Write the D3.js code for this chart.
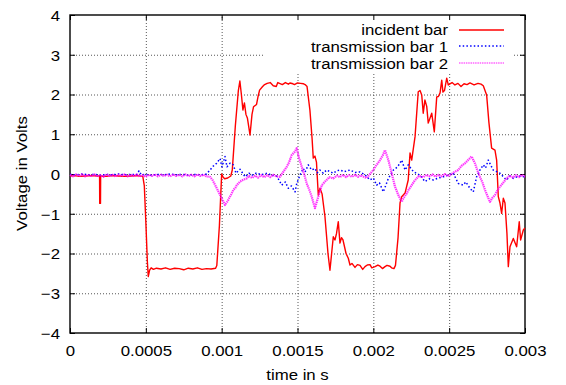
<!DOCTYPE html>
<html><head><meta charset="utf-8">
<script src="https://cdn.jsdelivr.net/npm/d3@7"></script>
<style>
body{margin:0;background:#fff;}
svg{display:block;}
text{font-family:"Liberation Sans",Arial,sans-serif;fill:#000;}
</style></head>
<body><svg id="c" width="566" height="385"></svg>
<script>
// ---------- data ----------
const xTicks = [0, 0.0005, 0.001, 0.0015, 0.002, 0.0025, 0.003];
const yTicks = [-4, -3, -2, -1, 0, 1, 2, 3, 4];
const seriesNames = ["incident bar", "transmission bar 1", "transmission bar 2"];

const incident = [[0,-0.05],[0.00003,-0.04],[0.00006,-0.06],[0.0001,-0.05],[0.00014,-0.04],[0.00018,-0.05],[0.000195,-0.05],[0.000196,-0.74],[0.000201,-0.74],[0.000202,-0.05],[0.00024,-0.06],[0.00028,-0.04],[0.00032,-0.05],[0.00036,-0.06],[0.0004,-0.05],[0.00044,-0.04],[0.00048,-0.06],[0.00049,-0.3],[0.0005,-1.2],[0.00051,-2.2],[0.000516,-2.58],[0.000525,-2.42],[0.000535,-2.36],[0.00055,-2.4],[0.00057,-2.37],[0.0006,-2.39],[0.00063,-2.36],[0.00066,-2.4],[0.00069,-2.37],[0.00072,-2.38],[0.00075,-2.41],[0.00078,-2.37],[0.00081,-2.39],[0.00084,-2.36],[0.00087,-2.4],[0.0009,-2.38],[0.00093,-2.39],[0.00096,-2.37],[0.000968,-2.3],[0.000985,-1.3],[0.001,0.0],[0.00101,-0.08],[0.00102,-0.12],[0.00104,-0.1],[0.00106,-0.05],[0.00107,0.1],[0.00109,1.2],[0.00111,2.1],[0.00112,2.34],[0.00113,2.0],[0.00114,1.61],[0.00115,1.79],[0.00116,1.5],[0.00117,1.4],[0.001187,0.98],[0.0012,1.5],[0.00121,1.69],[0.00123,1.75],[0.00124,1.95],[0.00125,2.11],[0.00127,2.2],[0.00128,2.24],[0.0013,2.28],[0.00132,2.3],[0.00134,2.22],[0.00136,2.2],[0.00137,2.3],[0.0014,2.25],[0.00142,2.3],[0.00144,2.26],[0.00145,2.29],[0.00147,2.27],[0.00148,2.25],[0.0015,2.29],[0.00152,2.28],[0.00154,2.27],[0.00155,2.25],[0.001563,2.2],[0.001582,1.6],[0.001596,0.9],[0.001604,0.4],[0.001615,0.45],[0.001625,0.3],[0.001637,-0.53],[0.001648,-0.36],[0.001662,-0.5],[0.001681,-1.07],[0.001701,-2.0],[0.001714,-2.42],[0.001736,-1.58],[0.001747,-1.66],[0.001757,-1.5],[0.001769,-1.2],[0.00178,-1.74],[0.00179,-1.6],[0.0018,-1.66],[0.00182,-2.0],[0.001835,-2.12],[0.001846,-2.29],[0.001859,-2.25],[0.001879,-2.35],[0.001895,-2.28],[0.001912,-2.3],[0.00193,-2.4],[0.001945,-2.33],[0.00196,-2.29],[0.001978,-2.28],[0.00199,-2.36],[0.002011,-2.33],[0.00203,-2.29],[0.002044,-2.32],[0.00206,-2.38],[0.002077,-2.33],[0.00209,-2.3],[0.00211,-2.32],[0.00212,-2.36],[0.002136,-2.38],[0.002146,-2.3],[0.002163,-1.6],[0.002176,-0.73],[0.002187,-0.57],[0.002209,-0.48],[0.00223,-0.15],[0.002242,0.53],[0.002253,0.35],[0.002275,0.94],[0.002296,2.07],[0.002308,2.1],[0.002319,1.99],[0.002329,1.53],[0.00234,1.86],[0.002352,1.7],[0.002362,1.28],[0.002385,1.53],[0.002402,1.06],[0.002418,1.94],[0.002429,1.95],[0.00244,2.04],[0.002451,2.36],[0.002459,2.06],[0.002469,2.1],[0.002484,2.41],[0.002494,2.24],[0.002519,2.3],[0.002538,2.24],[0.002558,2.28],[0.002578,2.2],[0.002598,2.27],[0.002618,2.25],[0.002637,2.29],[0.002664,2.24],[0.00269,2.28],[0.00271,2.26],[0.002725,2.22],[0.002747,1.99],[0.002762,1.3],[0.00278,0.65],[0.002802,0.6],[0.002813,0.35],[0.002824,-0.57],[0.002835,-0.73],[0.002846,-0.99],[0.002857,-0.61],[0.002868,-0.73],[0.002881,-1.5],[0.00289,-2.33],[0.002901,-1.83],[0.002923,-1.62],[0.002945,-1.83],[0.002962,-1.2],[0.002971,-1.66],[0.002989,-1.41],[0.003,-1.36]];

const trans1 = [[0,-0.01],[0.00004,-0.02],[0.00008,0.0],[0.00012,-0.02],[0.00016,-0.01],[0.0002,-0.03],[0.00024,-0.01],[0.00028,-0.02],[0.00032,0.0],[0.00036,-0.02],[0.0004,-0.01],[0.00044,-0.02],[0.000455,0.08],[0.00047,-0.02],[0.0005,-0.01],[0.00054,-0.03],[0.00058,-0.01],[0.00062,-0.02],[0.00066,0.0],[0.0007,-0.02],[0.00074,-0.01],[0.00078,-0.03],[0.00082,-0.01],[0.00086,-0.02],[0.0009,0.0],[0.000923,0.1],[0.000945,0.2],[0.000967,0.27],[0.000989,0.39],[0.001002,0.18],[0.001022,0.44],[0.001035,0.18],[0.001055,0.27],[0.001077,0.23],[0.001094,0.02],[0.001121,0.12],[0.001154,-0.07],[0.00118,0.02],[0.0012,-0.03],[0.00123,0.03],[0.00126,-0.02],[0.0013,0.02],[0.00133,-0.03],[0.001363,-0.05],[0.001396,-0.28],[0.00142,-0.2],[0.001439,-0.36],[0.00146,-0.3],[0.001484,-0.45],[0.001495,-0.24],[0.001516,-0.03],[0.001538,0.14],[0.00155,0.05],[0.001571,0.23],[0.001594,0.1],[0.001615,0.14],[0.00163,0.03],[0.001648,0.1],[0.00167,0.02],[0.001692,0.1],[0.001736,0.02],[0.00176,0.08],[0.00178,0.1],[0.00181,0.06],[0.001846,0.1],[0.00188,0.04],[0.001912,0.05],[0.001945,-0.02],[0.001978,-0.15],[0.002,-0.1],[0.002022,-0.28],[0.00204,-0.22],[0.002066,-0.45],[0.002099,-0.11],[0.002132,0.1],[0.00216,0.18],[0.002187,0.35],[0.002209,0.1],[0.00223,0.23],[0.002264,0.06],[0.002308,-0.03],[0.00234,-0.19],[0.00237,-0.12],[0.002395,-0.15],[0.00243,-0.1],[0.002461,-0.07],[0.002527,0.02],[0.00256,-0.24],[0.002593,-0.28],[0.00261,-0.2],[0.002637,-0.36],[0.002659,-0.45],[0.002681,-0.07],[0.002703,0.1],[0.002725,0.23],[0.00274,0.15],[0.002758,0.35],[0.00279,0.1],[0.002835,0.02],[0.00286,-0.08],[0.002879,-0.15],[0.0029,-0.05],[0.002923,-0.11],[0.00296,-0.05],[0.003,-0.07]];

const trans2 = [[0,-0.02],[0.00002,-0.06],[0.00004,-0.01],[0.00006,-0.05],[0.00008,-0.01],[0.0001,-0.06],[0.00012,-0.02],[0.00014,-0.05],[0.00016,-0.01],[0.00018,-0.06],[0.0002,-0.03],[0.00022,-0.07],[0.00024,-0.01],[0.00026,-0.05],[0.00028,-0.02],[0.0003,-0.06],[0.00032,-0.02],[0.00034,-0.05],[0.00036,-0.01],[0.00038,-0.06],[0.0004,-0.02],[0.00042,-0.05],[0.00044,-0.01],[0.00046,-0.06],[0.00048,-0.03],[0.0005,-0.07],[0.00052,-0.02],[0.00054,-0.05],[0.00056,-0.01],[0.00058,-0.06],[0.0006,-0.02],[0.00062,-0.05],[0.00064,-0.02],[0.00066,-0.06],[0.00068,-0.01],[0.0007,-0.05],[0.00072,-0.02],[0.00074,-0.06],[0.00076,-0.01],[0.00078,-0.05],[0.0008,-0.02],[0.00082,-0.06],[0.00084,-0.01],[0.00086,-0.05],[0.00088,-0.02],[0.0009,-0.06],[0.000923,-0.07],[0.00094,-0.15],[0.00096,-0.3],[0.00098,-0.45],[0.001,-0.61],[0.001022,-0.78],[0.00104,-0.68],[0.00105,-0.6],[0.001065,-0.5],[0.001077,-0.4],[0.00109,-0.35],[0.0011,-0.28],[0.001121,-0.19],[0.00114,-0.15],[0.001165,-0.11],[0.00118,-0.05],[0.0012,-0.1],[0.00122,-0.04],[0.00124,-0.09],[0.00126,-0.03],[0.00128,-0.08],[0.0013,-0.03],[0.00132,-0.08],[0.00134,-0.02],[0.00136,-0.06],[0.001385,-0.07],[0.0014,0.02],[0.001429,0.18],[0.001445,0.3],[0.001462,0.48],[0.00148,0.55],[0.001495,0.65],[0.00151,0.4],[0.001528,0.18],[0.001545,-0.02],[0.001561,-0.24],[0.001578,-0.4],[0.001594,-0.57],[0.001615,-0.86],[0.001637,-0.57],[0.00166,-0.28],[0.001692,-0.15],[0.00171,-0.08],[0.001736,-0.11],[0.00176,-0.04],[0.00178,-0.08],[0.0018,-0.02],[0.00182,-0.08],[0.00184,-0.03],[0.00186,-0.07],[0.00188,-0.02],[0.0019,-0.07],[0.00192,-0.03],[0.00194,-0.08],[0.001956,-0.1],[0.001978,0.0],[0.002,0.1],[0.00202,0.22],[0.002044,0.35],[0.00206,0.45],[0.002077,0.6],[0.002099,0.35],[0.002121,0.02],[0.002143,-0.32],[0.002165,-0.53],[0.002187,-0.7],[0.0022,-0.6],[0.00222,-0.49],[0.002235,-0.38],[0.002253,-0.28],[0.00227,-0.18],[0.002286,-0.11],[0.0023,-0.05],[0.002329,-0.08],[0.00235,-0.02],[0.00237,-0.06],[0.00239,-0.01],[0.00241,-0.07],[0.00243,-0.02],[0.00245,-0.06],[0.00247,0.0],[0.00249,-0.05],[0.002505,-0.03],[0.00253,0.04],[0.00256,0.1],[0.00258,0.2],[0.002604,0.27],[0.002625,0.35],[0.002648,0.44],[0.00267,0.27],[0.002685,0.1],[0.002703,-0.07],[0.00272,-0.22],[0.002736,-0.4],[0.002752,-0.55],[0.002769,-0.7],[0.002785,-0.6],[0.002802,-0.53],[0.00282,-0.4],[0.002835,-0.32],[0.00286,-0.2],[0.002879,-0.11],[0.0029,-0.04],[0.00292,-0.09],[0.00294,-0.03],[0.00296,-0.08],[0.00298,-0.02],[0.003,-0.07]];

// ---------- layout ----------
const svg = d3.select("#c");
const L = 70, R = 525, T = 15, B = 333;
const x = d3.scaleLinear().domain([0, 0.003]).range([L, R]);
const y = d3.scaleLinear().domain([-4, 4]).range([B, T]);
const FS = 15, SX = 1.12;
const fmtX = d => d === 0 ? "0" : String(+d.toFixed(4));

// grid
const gridG = svg.append("g");
gridG.append("g").attr("transform", `translate(0,${B})`)
  .call(d3.axisBottom(x).tickValues(xTicks.slice(1, -1)).tickSize(-(B - T)).tickFormat(""))
  .call(g => g.select(".domain").remove());
gridG.append("g").attr("transform", `translate(${L},0)`)
  .call(d3.axisLeft(y).tickValues(yTicks.slice(1, -1)).tickSize(-(R - L)).tickFormat(""))
  .call(g => g.select(".domain").remove());
gridG.selectAll("line").attr("stroke", "#444").attr("stroke-width", 0.9).attr("stroke-dasharray", "1,2");

// legend opaque box
svg.append("rect").attr("x", 263).attr("y", 17).attr("width", 251).attr("height", 55).attr("fill", "#fff");

// axes with inward ticks (mirrored)
const axB = svg.append("g").attr("transform", `translate(0,${B})`)
  .call(d3.axisBottom(x).tickValues(xTicks).tickSize(-5).tickFormat(fmtX).tickPadding(0));
const axT = svg.append("g").attr("transform", `translate(0,${T})`)
  .call(d3.axisTop(x).tickValues(xTicks).tickSize(-5).tickFormat(""));
const axL = svg.append("g").attr("transform", `translate(${L},0)`)
  .call(d3.axisLeft(y).tickValues(yTicks).tickSize(-5).tickFormat(d3.format("d")).tickPadding(0));
const axR = svg.append("g").attr("transform", `translate(${R},0)`)
  .call(d3.axisRight(y).tickValues(yTicks).tickSize(-5).tickFormat(""));
[axB, axT, axL, axR].forEach(a => {
  a.selectAll(".domain").remove();
  a.selectAll("line").attr("stroke", "#000").attr("stroke-width", 1);
});
axB.selectAll("text").attr("y", 22.7).attr("dy", null)
  .attr("font-size", FS).attr("font-family", "Liberation Sans, Arial, sans-serif")
  .attr("transform", `scale(${SX},1)`);
axL.selectAll("text").attr("x", -10 / SX).attr("dy", "0.36em")
  .attr("font-size", FS).attr("font-family", "Liberation Sans, Arial, sans-serif")
  .attr("transform", `scale(${SX},1)`);

// border
svg.append("rect").attr("x", L).attr("y", T).attr("width", R - L).attr("height", B - T)
  .attr("fill", "none").attr("stroke", "#000").attr("stroke-width", 1.4);

// series
const line = d3.line().x(d => x(d[0])).y(d => y(d[1]));
const styles = [
  {data: incident, color: "#ff0000", width: 1.4, dash: null, op: 1},
  {data: trans1, color: "#0000ff", width: 1.5, dash: "1.5,2.2", op: 1},
  {data: trans2, color: "#ff00ff", width: 2.2, dash: "1.4,0.7", op: 0.8}
];
const plot = svg.append("g");
styles.forEach(s => {
  plot.append("path").datum(s.data).attr("d", line)
    .attr("fill", "none").attr("stroke", s.color).attr("stroke-width", s.width)
    .attr("stroke-dasharray", s.dash).attr("stroke-opacity", s.op)
    .attr("stroke-linejoin", "round");
});

// legend
const legY = [35, 51.7, 68.5];
const legColor = ["#ff0000", "#0000ff", "#ff66ff"];
const legDash = [null, "1.5,2.2", "1.5,0.8"];
seriesNames.forEach((name, i) => {
  svg.append("text").attr("transform", `translate(448,${legY[i]}) scale(${SX},1)`)
    .attr("text-anchor", "end").attr("font-size", FS).text(name);
  const ly = Math.round(legY[i] - 5.3);
  svg.append("line").attr("x1", 459).attr("x2", 504).attr("y1", ly).attr("y2", ly)
    .attr("stroke", legColor[i]).attr("stroke-width", i === 2 ? 1.6 : 1.4)
    .attr("stroke-dasharray", legDash[i]);
});

// axis titles
svg.append("text").attr("transform", `translate(297.5,380) scale(${SX},1)`)
  .attr("text-anchor", "middle").attr("font-size", FS).text("time in s");
svg.append("text").attr("transform", `translate(27,173.5) rotate(-90) scale(${SX},1)`)
  .attr("text-anchor", "middle").attr("font-size", FS).text("Voltage in Volts");
</script></body></html>
